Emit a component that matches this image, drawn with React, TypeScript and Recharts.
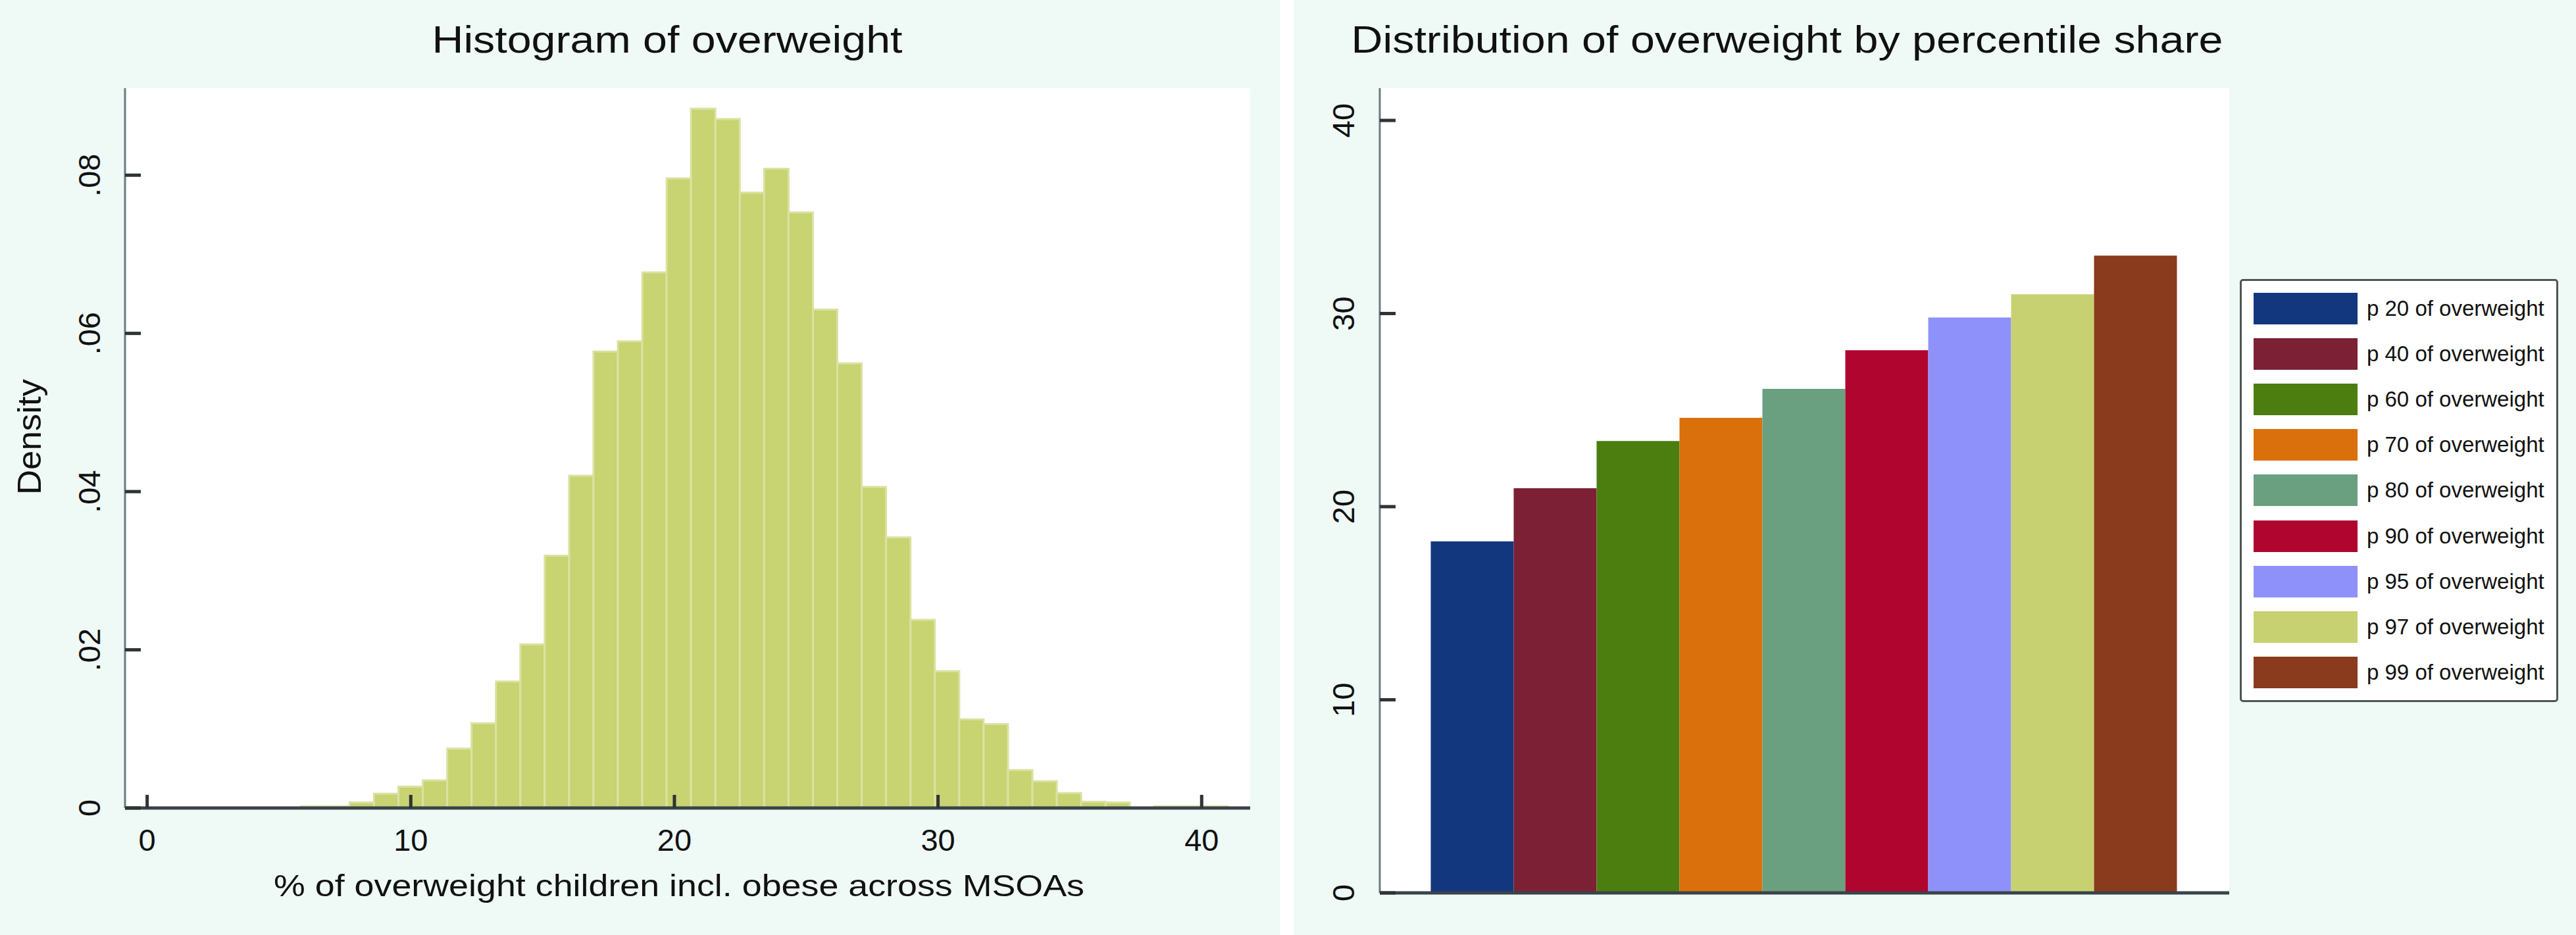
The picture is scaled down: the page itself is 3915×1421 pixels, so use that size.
import { BarChart, Bar, XAxis, YAxis, CartesianGrid } from "recharts";

const binCenters = [
  6.293, 7.218, 8.143, 9.068, 9.993, 10.918, 11.843, 12.768, 13.693, 14.618,
  15.543, 16.468, 17.393, 18.318, 19.243, 20.168, 21.093, 22.018, 22.943, 23.868,
  24.793, 25.718, 26.643, 27.568, 28.493, 29.418, 30.343, 31.268, 32.193, 33.118,
  34.043, 34.968, 35.893, 36.818, 37.743, 38.668, 39.593, 40.518,
];
const densities = [
  0.0002, 0.0002, 0.0007, 0.0018, 0.0027, 0.0035, 0.0075, 0.0107, 0.016, 0.0207,
  0.0319, 0.042, 0.0577, 0.059, 0.0677, 0.0796, 0.0884, 0.0871, 0.0778, 0.0808,
  0.0753, 0.063, 0.0562, 0.0406, 0.0342, 0.0238, 0.0173, 0.0112, 0.0106, 0.0048,
  0.0034, 0.0019, 0.0008, 0.0007, 0, 0.0002, 0.0002, 0.0002,
];
const histXTicks = [0, 10, 20, 30, 40];
const histYTicks = [0, 0.02, 0.04, 0.06, 0.08];

const pctKeys = ["p20", "p40", "p60", "p70", "p80", "p90", "p95", "p97", "p99"];
const pctLabels = [
  "p 20 of overweight",
  "p 40 of overweight",
  "p 60 of overweight",
  "p 70 of overweight",
  "p 80 of overweight",
  "p 90 of overweight",
  "p 95 of overweight",
  "p 97 of overweight",
  "p 99 of overweight",
];
const pctValues = [18.2, 20.95, 23.4, 24.6, 26.1, 28.1, 29.8, 31.0, 33.0];
const pctColors = [
  "#13377f", "#7c2135", "#4b7e0f", "#da700c", "#6aa080",
  "#b0052f", "#8f91fb", "#c8d171", "#8a3a1d",
];
const pctYTicks = [0, 10, 20, 30, 40];

const histData = binCenters.map((x, i) => ({ x, density: densities[i] }));
const pctRow: Record<string, number | string> = { name: "overweight" };
pctKeys.forEach((k, i) => (pctRow[k] = pctValues[i]));
const pctData = [pctRow];

const FONT = '"Liberation Sans", Arial, Helvetica, sans-serif';

const fmtDensity = (v: number) => (v === 0 ? "0" : v.toFixed(2).replace(/^0/, ""));

const YTick = ({ x, y, payload, fmt, off }: any) => (
  <g>
    <line x1={x} x2={x + 24} y1={y} y2={y} stroke="#2e3434" strokeWidth={5} />
    <text
      x={x - off}
      y={y}
      transform={`rotate(-90 ${x - off} ${y})`}
      textAnchor="middle"
      fontSize={47}
      fontFamily={FONT}
      fill="#111"
    >
      {fmt ? fmt(payload.value) : payload.value}
    </text>
  </g>
);

const XTick = ({ x, y, payload }: any) => (
  <g>
    <line x1={x} x2={x} y1={y} y2={y - 20} stroke="#2e3434" strokeWidth={5} />
    <text x={x} y={y + 65} textAnchor="middle" fontSize={47} fontFamily={FONT} fill="#111">
      {payload.value}
    </text>
  </g>
);

export default function App() {
  return (
    <div
      style={{
        position: "absolute",
        left: 0,
        top: 0,
        width: 3915,
        height: 1421,
        background: "#eff9f6",
        overflow: "hidden",
        fontFamily: FONT,
      }}
    >
      <div style={{ position: "absolute", left: 1945, top: 0, width: 21, height: 1421, background: "#ffffff" }} />

      <div style={{ position: "absolute", left: 0, top: 0 }}>
        <BarChart
          width={1950}
          height={1421}
          data={histData}
          margin={{ top: 134, right: 50, bottom: 0, left: 0 }}
          barCategoryGap={0}
          barGap={0}
        >
          <CartesianGrid fill="#ffffff" horizontal={false} vertical={false} />
          <XAxis
            type="number"
            dataKey="x"
            domain={[-0.84, 41.84]}
            ticks={histXTicks}
            allowDataOverflow
            height={193}
            tickSize={0}
            tickMargin={0}
            tickLine={false}
            axisLine={{ stroke: "#39434a", strokeWidth: 5 }}
            tick={<XTick />}
            interval={0}
          />
          <YAxis
            type="number"
            domain={[0, 0.091]}
            ticks={histYTicks}
            allowDataOverflow
            width={190}
            tickSize={0}
            tickMargin={0}
            tickLine={false}
            axisLine={{ stroke: "#6a7c7c", strokeWidth: 3 }}
            tick={<YTick fmt={fmtDensity} off={38} />}
            interval={0}
          />
          <Bar dataKey="density" fill="#c8d371" stroke="#dae2a2" strokeWidth={3} isAnimationActive={false} />
        </BarChart>
      </div>

      <div style={{ position: "absolute", left: 1960, top: 0 }}>
        <BarChart
          width={1440}
          height={1421}
          data={pctData}
          margin={{ top: 134, right: 12, bottom: 0, left: 0 }}
          barCategoryGap={77.5}
          barGap={0}
        >
          <CartesianGrid fill="#ffffff" horizontal={false} vertical={false} />
          <XAxis
            dataKey="name"
            height={64}
            tick={false}
            tickLine={false}
            axisLine={{ stroke: "#39434a", strokeWidth: 5 }}
          />
          <YAxis
            type="number"
            domain={[0, 41.67]}
            ticks={pctYTicks}
            allowDataOverflow
            width={137}
            tickSize={0}
            tickMargin={0}
            tickLine={false}
            axisLine={{ stroke: "#6a7c7c", strokeWidth: 3 }}
            tick={<YTick off={39} />}
            interval={0}
          />
          {pctKeys.map((k, i) => (
            <Bar key={k} dataKey={k} fill={pctColors[i]} isAnimationActive={false} />
          ))}
        </BarChart>
      </div>

      <svg
        width={3915}
        height={1421}
        style={{ position: "absolute", left: 0, top: 0, pointerEvents: "none" }}
      >
        <text x={1014} y={80} textAnchor="middle" fontSize={58} fontFamily={FONT} fill="#111" textLength={715} lengthAdjust="spacingAndGlyphs">
          Histogram of overweight
        </text>
        <text x={2716} y={80} textAnchor="middle" fontSize={58} fontFamily={FONT} fill="#111" textLength={1325} lengthAdjust="spacingAndGlyphs">
          Distribution of overweight by percentile share
        </text>
        <text x={1032} y={1362} textAnchor="middle" fontSize={46} fontFamily={FONT} fill="#111" textLength={1232} lengthAdjust="spacingAndGlyphs">
          % of overweight children incl. obese across MSOAs
        </text>
        <text x={62} y={664} transform="rotate(-90 62 664)" textAnchor="middle" fontSize={50} fontFamily={FONT} fill="#111" textLength={176} lengthAdjust="spacingAndGlyphs">
          Density
        </text>
      </svg>

      <div
        style={{
          position: "absolute",
          left: 3404,
          top: 424,
          width: 484,
          height: 643,
          boxSizing: "border-box",
          border: "3px solid #4d5555",
          borderRadius: 5,
          background: "#ffffff",
        }}
      >
        {pctLabels.map((label, i) => (
          <div
            key={label}
            style={{
              position: "absolute",
              left: 18,
              top: 18 + i * 69.1,
              height: 48,
              display: "flex",
              alignItems: "center",
              whiteSpace: "nowrap",
            }}
          >
            <div style={{ width: 158, height: 48, background: pctColors[i] }} />
            <span style={{ marginLeft: 14, fontSize: 33, color: "#111", lineHeight: "48px" }}>{label}</span>
          </div>
        ))}
      </div>
    </div>
  );
}
